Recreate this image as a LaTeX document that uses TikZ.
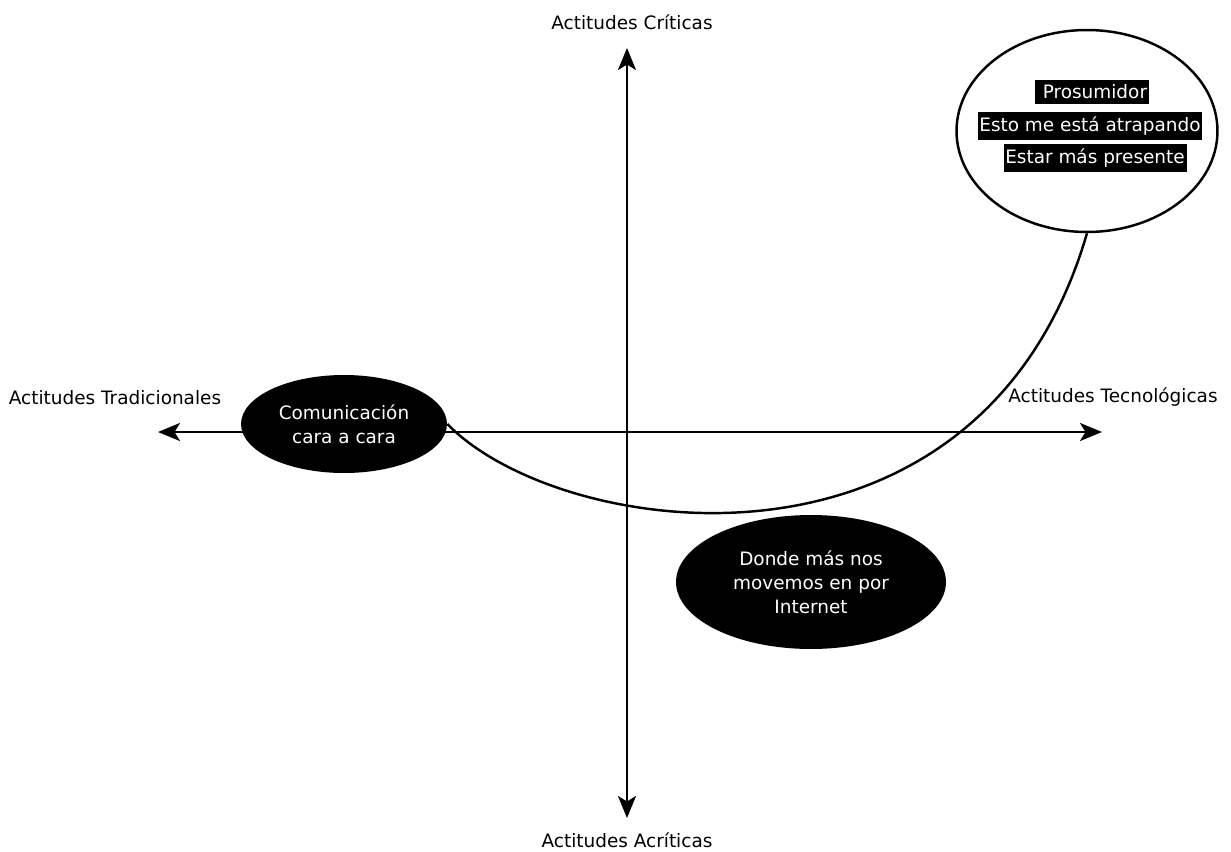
\documentclass[tikz,border=0pt]{standalone}
\usepackage{fontspec}
\setmainfont{DejaVu Sans}
\usetikzlibrary{shapes.geometric,arrows.meta}

\begin{document}
\begin{tikzpicture}[x=0.02cm,y=-0.02cm,
  every node/.style={font=\fontsize{10.5}{13.7}\selectfont},
  blob/.style={ellipse,fill=black,text=white,align=center,inner sep=0pt},
  tag/.style={fill=black,text=white,inner xsep=1pt,inner ysep=2.8pt},
  axis/.style={line width=1.4pt,{Stealth[length=4.4mm,width=3.6mm,inset=1.1mm]}-{Stealth[length=4.4mm,width=3.6mm,inset=1.1mm]}}]
\useasboundingbox (0,0) rectangle (1231,852);
% axes
\coordinate (up) at (627,48);
\coordinate (down) at (627,818);
\coordinate (west) at (158,432);
\coordinate (east) at (1102,432);
\draw[axis] (up) -- (down);
\draw[axis] (west) -- (east);
\node (crit) at (632,22) {Actitudes Críticas};
\node (acrit) at (627,840) {Actitudes Acríticas};
\node (trad) at (115,398) {Actitudes Tradicionales};
\node (tec) at (1113,397) {Actitudes Tecnológicas};
% ellipses
\node [blob,minimum width=4.12cm,minimum height=1.96cm] (cara) at (344,424)
  {Comunicación\\cara a cara};
\node [blob,minimum width=5.4cm,minimum height=2.68cm] (internet) at (811,582)
  {Donde más nos\\movemos en por\\Internet};
\node [ellipse,draw,fill=white,line width=1.4pt,minimum width=5.22cm,minimum height=4.04cm] (prosum) at (1087,131) {};
\node [tag] (p1) at (1092,92) {\ Prosumidor};
\node [tag] (p2) at (1090,126) {Esto me está atrapando};
\node [tag] (p3) at (1095,158) {Estar más presente};
% curve
\draw[line width=1.4pt] (cara.east) .. controls (560,540) and (980,600) .. (prosum.south);
\end{tikzpicture}
\end{document}
